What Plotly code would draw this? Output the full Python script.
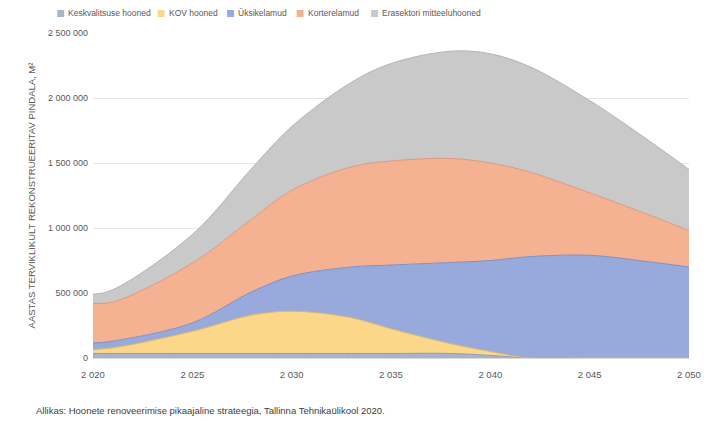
import plotly.graph_objects as go

# ---- data (m² per year) ----
years = [2020, 2021, 2025, 2028, 2030, 2033, 2035, 2038, 2040, 2042, 2045, 2048, 2050]
keskvalitsuse = [35000, 35000, 35000, 35000, 35000, 35000, 35000, 35000, 20000, 0, 0, 0, 0]
kov = [30000, 43000, 170000, 295000, 325000, 275000, 190000, 75000, 30000, 0, 0, 0, 0]
uksikelamud = [50000, 52000, 65000, 180000, 270000, 390000, 490000, 625000, 700000, 780000, 790000, 740000, 700000]
korterelamud = [305000, 300000, 460000, 560000, 660000, 770000, 800000, 800000, 750000, 650000, 480000, 360000, 280000]
erasektor = [67000, 95000, 220000, 390000, 490000, 650000, 750000, 825000, 840000, 810000, 710000, 570000, 470000]

series_names = ["Keskvalitsuse hooned", "KOV hooned", "Üksikelamud", "Korterelamud",
                "Erasektori mitteeluhooned"]
series_values = [keskvalitsuse, kov, uksikelamud, korterelamud, erasektor]
fill_colors = ["#A8B4CC", "#FCD78A", "#98AADC", "#F5B293", "#C9C9C9"]
line_colors = ["#8E9AB3", "#D9B76E", "#7F8FBF", "#D99A7E", "#B4B4B4"]

x_ticks = [2020, 2025, 2030, 2035, 2040, 2045, 2050]
y_ticks = [0, 500000, 1000000, 1500000, 2000000, 2500000]

W, H = 713, 423
L, R, T, B = 93, 20, 33, 65
PW, PH = W - L - R, H - T - B

def px(x):
    return (x - L) / PW

def py(y):
    return (H - B - y) / PH

fig = go.Figure()
for name, vals, fc, lc in zip(series_names, series_values, fill_colors, line_colors):
    fig.add_trace(go.Scatter(
        x=years, y=vals, name=name, mode="lines", stackgroup="one",
        line=dict(shape="spline", smoothing=1.0, color=lc, width=1),
        fillcolor=fc, showlegend=False, hoverinfo="skip",
    ))

# manual legend
legend_x = [57, 158, 228, 298, 373]
shapes = []
annotations = []
for lx, name, fc in zip(legend_x, series_names, fill_colors):
    shapes.append(dict(type="rect", xref="paper", yref="paper",
                       x0=px(lx), x1=px(lx + 7), y0=py(17), y1=py(10),
                       fillcolor=fc, line=dict(width=0)))
    annotations.append(dict(text=name, xref="paper", yref="paper",
                            x=px(lx + 9), y=py(13.5), xanchor="left", yanchor="middle",
                            showarrow=False, font=dict(size=8.5, color="#595959")))

annotations.append(dict(text="Allikas: Hoonete renoveerimise pikaajaline strateegia, Tallinna Tehnikaülikool 2020.",
                        xref="paper", yref="paper", x=px(34), y=py(410),
                        xanchor="left", yanchor="middle", showarrow=False,
                        font=dict(size=9.5, color="#404040")))

fig.update_layout(
    width=W, height=H,
    margin=dict(l=L, r=R, t=T, b=B),
    paper_bgcolor="white", plot_bgcolor="white",
    separators=", ",
    font=dict(family="Liberation Sans, Arial, sans-serif", size=9, color="#595959"),
    shapes=shapes, annotations=annotations,
    xaxis=dict(range=[2020, 2050], tickvals=x_ticks, tickformat=",", showgrid=False,
               zeroline=False, showline=True, linecolor="#D9D9D9", ticks="",
               ticklabelstandoff=8,
               tickfont=dict(size=9.5, color="#595959")),
    yaxis=dict(range=[0, 2500000], tickvals=y_ticks, tickformat=",", showgrid=True,
               gridcolor="#E6E6E6", zeroline=False, ticks="",
               ticklabelstandoff=4,
               tickfont=dict(size=9, color="#595959"),
               title=dict(text="AASTAS TERVIKLIKULT REKONSTRUEERITAV PINDALA, M²",
                          font=dict(size=9.5, color="#595959"), standoff=10)),
)

fig.write_html("out.html", config={"displayModeBar": False},
               post_script="document.body.style.margin='0';")
